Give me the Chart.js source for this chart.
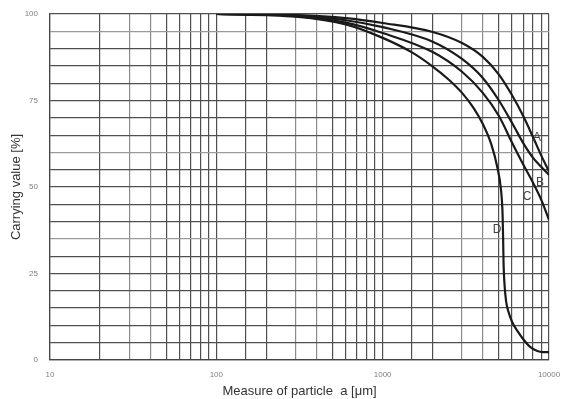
<!DOCTYPE html>
<html>
<head>
<meta charset="utf-8">
<script src="https://cdn.jsdelivr.net/npm/chart.js@4"></script>
<style>
    html, body { margin: 0; padding: 0; background: #fff; }
    #chart { display: block; }
</style>
</head>
<body>
<canvas id="chart" width="566" height="399"></canvas>
<script>
// Curve data: particle size [µm] and carrying value [%]
const sizeA  = [100, 300, 600, 1000, 2000, 3000, 4000, 5000, 6000, 7000, 8000, 9000, 10000];
const valueA = [100, 99.7, 98.8, 97.4, 94.8, 91.6, 87.6, 82.5, 76.5, 70.5, 64.5, 59.0, 54.5];

const sizeB  = [100, 300, 600, 1000, 2000, 3000, 4000, 5000, 6000, 7000, 8000, 9000, 10000];
const valueB = [100, 99.6, 98.2, 96.2, 92.0, 87.0, 81.5, 75.0, 68.5, 62.7, 58.5, 55.8, 53.5];

const sizeC  = [100, 300, 600, 1000, 2000, 3000, 4000, 5000, 6000, 7000, 8000, 9000, 10000];
const valueC = [100, 99.4, 97.5, 94.5, 89.0, 83.3, 77.2, 70.5, 62.8, 56.5, 51.3, 46.2, 40.5];

const sizeD  = [100, 300, 600, 1000, 1500, 2000, 2500, 3000, 3500, 4000, 4500, 4900, 5150, 5260, 5300, 5330, 5400, 5520, 5700, 6000, 6500, 7000, 7700, 8500, 9200, 10000];
const valueD = [100, 99.2, 97.0, 93.1, 88.9, 84.8, 81.0, 77.2, 73.0, 68.2, 62.3, 55.5, 49.0, 42.0, 35.0, 28.0, 22.0, 17.0, 14.0, 11.0, 8.2, 6.0, 3.8, 2.6, 2.3, 2.3];

// Curve names and where their letters sit (data coordinates)
const curveNames = ['A', 'B', 'C', 'D'];
const letterSize  = [8480, 8835, 7380, 4875];
const letterValue = [64.2, 51.2, 47.1, 37.6];

// Axis ticks
const xLabels = [10, 100, 1000, 10000];
const yLabels = [0, 25, 50, 75, 100];
const lightRows = [95, 60, 35];

function toPoints(xs, ys) {
    return xs.map((x, i) => ({ x: x, y: ys[i] }));
}

function curve(label, xs, ys) {
    return {
        label: label,
        data: toPoints(xs, ys),
        borderColor: '#1a1a1a',
        borderWidth: 2.2,
        pointRadius: 0,
        fill: false,
        cubicInterpolationMode: 'monotone'
    };
}

// Draw the A/B/C/D letters next to the curves
const letterPlugin = {
    id: 'curveLetters',
    afterDatasetsDraw(chart) {
        const ctx = chart.ctx;
        const xs = chart.scales.x, ys = chart.scales.y;
        ctx.save();
        ctx.font = '12px "Liberation Sans", Arial, sans-serif';
        ctx.fillStyle = '#444';
        ctx.textAlign = 'center';
        ctx.textBaseline = 'middle';
        curveNames.forEach((name, i) => {
            ctx.fillText(name, xs.getPixelForValue(letterSize[i]), ys.getPixelForValue(letterValue[i]));
        });
        ctx.restore();
    }
};

const ctx = document.getElementById('chart').getContext('2d');
new Chart(ctx, {
    type: 'line',
    data: {
        datasets: [
            curve('A', sizeA, valueA),
            curve('B', sizeB, valueB),
            curve('C', sizeC, valueC),
            curve('D', sizeD, valueD)
        ]
    },
    options: {
        responsive: false,
        animation: false,
        layout: { padding: { top: 14, right: 17, left: 0, bottom: 0 } },
        plugins: {
            legend: { display: false },
            tooltip: { enabled: false }
        },
        scales: {
            x: {
                type: 'logarithmic',
                min: 10,
                max: 10000,
                afterFit: (scale) => {
                    scale.height = 39;
                    scale.paddingLeft = 0;
                    scale.paddingRight = 0;
                },
                border: { display: true, color: '#444', width: 1.2 },
                grid: {
                    drawTicks: false,
                    lineWidth: 1.2,
                    color: (c) => {
                        const v = c.tick ? c.tick.value : 0;
                        const m = v / Math.pow(10, Math.floor(Math.log10(v) + 1e-9));
                        return (Math.round(m) === 3 || Math.round(m) === 4) ? '#8c8c8c' : '#505050';
                    }
                },
                ticks: {
                    autoSkip: false,
                    maxRotation: 0,
                    padding: 10,
                    color: '#808080',
                    font: { size: 8, family: '"Liberation Sans", Arial, sans-serif' },
                    callback: (v) => xLabels.includes(Math.round(v)) ? String(Math.round(v)) : ''
                },
                title: {
                    display: true,
                    text: 'Measure of particle  a [μm]',
                    color: '#333',
                    padding: { top: 0, bottom: 0 },
                    font: { size: 13, family: '"Liberation Sans", Arial, sans-serif' }
                }
            },
            y: {
                type: 'linear',
                min: 0,
                max: 100,
                afterFit: (scale) => {
                    scale.width = 50;
                    scale.paddingTop = 0;
                    scale.paddingBottom = 0;
                },
                border: { display: true, color: '#444', width: 1.2 },
                grid: {
                    drawTicks: false,
                    lineWidth: 1.2,
                    color: (c) => lightRows.includes(c.tick ? c.tick.value : -1) ? '#9a9a9a' : '#505050'
                },
                ticks: {
                    stepSize: 5,
                    autoSkip: false,
                    padding: 12,
                    color: '#808080',
                    font: { size: 8, family: '"Liberation Sans", Arial, sans-serif' },
                    callback: (v) => yLabels.includes(v) ? String(v) : ''
                },
                title: {
                    display: true,
                    text: 'Carrying value [%]',
                    color: '#333',
                    padding: { top: 9, bottom: 0 },
                    font: { size: 13, family: '"Liberation Sans", Arial, sans-serif' }
                }
            }
        }
    },
    plugins: [letterPlugin]
});
</script>
</body>
</html>
